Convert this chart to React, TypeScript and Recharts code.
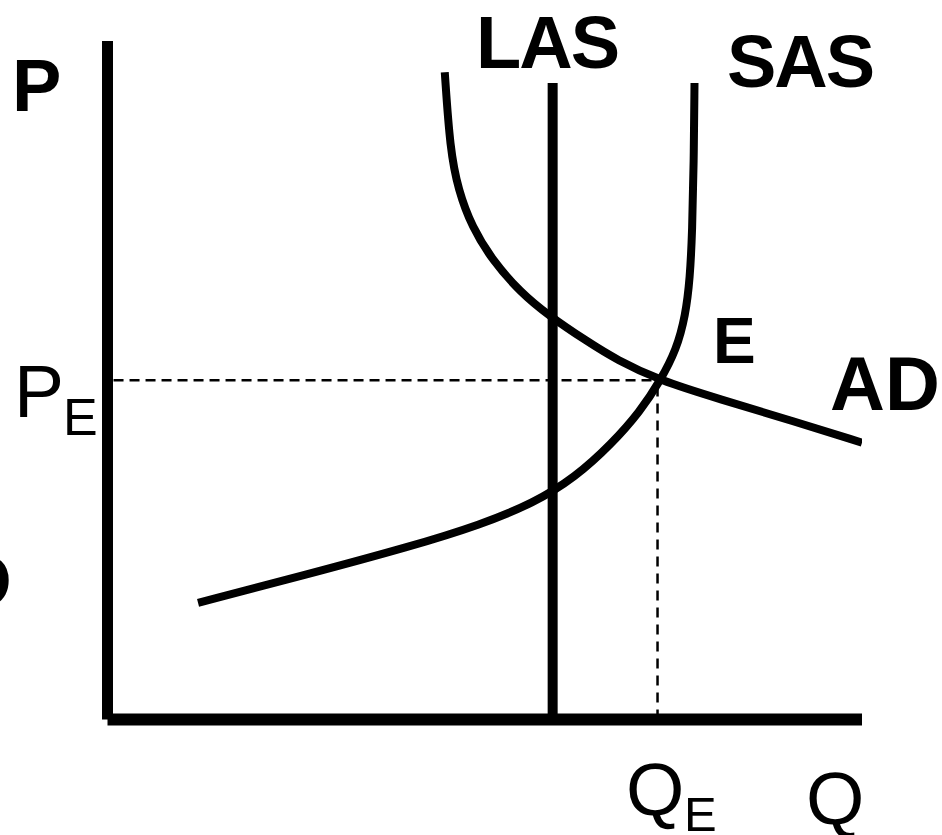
import { ComposedChart, Line, XAxis, YAxis, ReferenceLine } from 'recharts'

// quantity (Q) and price (P) in chart units, 0..100 on both axes
const sasQ = [12.0, 25.5, 40.5, 49.4, 56.5, 62.0, 66.8, 70.6, 73.3, 75.4, 76.6, 77.2, 77.5, 77.7, 77.8]
const sasP = [17.2, 21.1, 25.6, 28.7, 31.9, 35.7, 40.6, 45.4, 50.0, 54.5, 59.5, 65.0, 72.0, 82.0, 93.8]

const adQ = [44.7, 45.4, 46.5, 48.3, 51.0, 54.7, 58.4, 63.6, 67.5, 73.1, 81.2, 90.5, 100]
const adP = [95.4, 84.0, 78.0, 72.6, 67.7, 63.0, 59.6, 55.7, 53.0, 50.0, 47.2, 44.1, 40.8]

const lasQ = 59.0
const lasTop = 93.8
const eqQ = 72.9
const eqP = 50.0

const sasData = sasQ.map((q, i) => ({ q, p: sasP[i] }))
const adData = adQ.map((q, i) => ({ q, p: adP[i] }))

const font = '"Liberation Sans", Arial, sans-serif'

export default function App() {
  return (
    <div style={{ position: 'absolute', left: 0, top: 0 }}>
      <ComposedChart width={942} height={835} margin={{ top: 41, right: 80, bottom: 115.5, left: 107.5 }}>
        <XAxis type="number" dataKey="q" domain={[0, 100]} hide allowDataOverflow />
        <YAxis type="number" dataKey="p" domain={[0, 100]} hide allowDataOverflow />

        {/* axes */}
        <ReferenceLine segment={[{ x: 0, y: 0 }, { x: 0, y: 100 }]} stroke="#000" strokeWidth={11} />
        <ReferenceLine segment={[{ x: 0, y: 0 }, { x: 100, y: 0 }]} stroke="#000" strokeWidth={12} />

        {/* equilibrium guides */}
        <ReferenceLine segment={[{ x: 0.8, y: eqP }, { x: eqQ, y: eqP }]} stroke="#000" strokeWidth={2.5} strokeDasharray="10 6" />
        <ReferenceLine segment={[{ x: eqQ, y: 0 }, { x: eqQ, y: eqP }]} stroke="#000" strokeWidth={2.5} strokeDasharray="10 7" />

        {/* LAS */}
        <ReferenceLine segment={[{ x: lasQ, y: 0 }, { x: lasQ, y: lasTop }]} stroke="#000" strokeWidth={10} />

        <Line data={sasData} dataKey="p" type="basis" stroke="#000" strokeWidth={8} dot={false} activeDot={false} isAnimationActive={false} />
        <Line data={adData} dataKey="p" type="basis" stroke="#000" strokeWidth={8} dot={false} activeDot={false} isAnimationActive={false} />

        <g fontFamily={font} fill="#000">
          <text x={12} y={111} fontSize={74} fontWeight="bold">P</text>
          <text x={476} y={68} fontSize={74} fontWeight="bold" letterSpacing={-2}>LAS</text>
          <text x={727} y={87} fontSize={74} fontWeight="bold" letterSpacing={-2}>SAS</text>
          <text x={713} y={363} fontSize={64} fontWeight="bold">E</text>
          <text x={830} y={410} fontSize={76} fontWeight="bold">AD</text>
          <text x={12} y={607} fontSize={76} fontWeight="bold" textAnchor="end">D</text>
          <text x={14} y={417} fontSize={75}>P</text>
          <text x={63} y={435} fontSize={52}>E</text>
          <text x={626} y={815} fontSize={75}>Q</text>
          <text x={684} y={831} fontSize={49}>E</text>
          <text x={806} y={824} fontSize={75}>Q</text>
        </g>
      </ComposedChart>
    </div>
  )
}
